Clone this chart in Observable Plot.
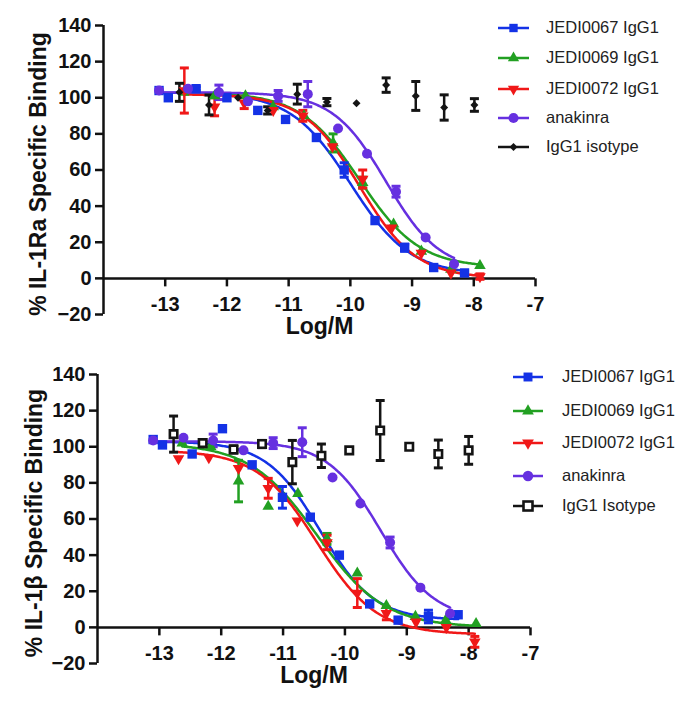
<!DOCTYPE html>
<html><head><meta charset="utf-8">
<script src="https://cdn.jsdelivr.net/npm/d3@7"></script>
<script src="https://cdn.jsdelivr.net/npm/@observablehq/plot@0.6"></script>
<style>
body{margin:0;background:#fff;font-family:"Liberation Sans",Arial,sans-serif;}
#wrap{position:relative;width:700px;height:709px;overflow:hidden;}
#wrap svg{position:absolute;left:0;overflow:visible;}
.legend{position:absolute;font-family:"Liberation Sans",Arial,sans-serif;font-size:16.5px;color:#222;white-space:nowrap;}
.legend svg{position:absolute;}
</style></head><body><div id="wrap"></div><script>
// ---------- axis ticks ----------
const xTicks = [-13, -12, -11, -10, -9, -8, -7];
const yTicks = [-20, 0, 20, 40, 60, 80, 100, 120, 140];
const xLabel = "Log/M";
const yLabelTop = "% IL-1Ra Specific Binding";
const yLabelBottom = "% IL-1\u03B2 Specific Binding";

// ---------- series ----------
const namesTop = ["JEDI0067 IgG1", "JEDI0069 IgG1", "JEDI0072 IgG1", "anakinra", "IgG1 isotype"];
const namesBottom = ["JEDI0067 IgG1", "JEDI0069 IgG1", "JEDI0072 IgG1", "anakinra", "IgG1 Isotype"];
const colors = ["#1432e6", "#22a022", "#f01818", "#6630e0", "#141414"];

// ---------- top panel (IL-1Ra) data ----------
const blueX_A = [-13.1, -12.95, -12.5, -12.0, -11.5, -11.05, -10.55, -10.1, -9.6, -9.12, -8.65, -8.15];
const blueY_A = [104, 100, 105, 100, 93, 88, 78, 60, 32, 17, 6, 3];
const blueE_A = [0, 0, 1, 0, 0, 0, 0, 4, 0, 2, 0, 0];
const greenX_A = [-12.7, -12.2, -11.7, -11.25, -10.75, -10.28, -9.8, -9.3, -8.85, -8.37, -7.9];
const greenY_A = [103, 101, 101, 95, 90, 75, 53, 30, 15, 5, 7];
const greenE_A = [0, 0, 0, 0, 0, 5, 3, 0, 0, 0, 0];
const redX_A = [-12.69, -12.2, -11.72, -11.25, -10.77, -10.29, -9.8, -9.33, -8.85, -8.37, -7.9];
const redY_A = [104, 95, 97, 93, 90, 73, 55, 28, 14, 3, 1];
const redE_A = [12.5, 5, 3, 0, 3, 0, 5, 0, 0, 0, 1.5];
const purpleX_A = [-13.1, -12.63, -12.13, -11.66, -11.17, -10.69, -10.2, -9.73, -9.26, -8.78, -8.32];
const purpleY_A = [104, 105, 103, 98, 101, 102, 83, 69, 48, 22.6, 8];
const purpleE_A = [0, 0, 4, 0, 3, 7, 0, 0, 3, 0, 0];
const blackX_A = [-12.77, -12.29, -11.82, -11.34, -10.86, -10.38, -9.9, -9.42, -8.94, -8.48, -7.99];
const blackY_A = [103, 96, 100, 93, 102, 97.6, 97, 107, 101, 94.6, 96];
const blackE_A = [5, 5.5, 0, 2, 5.5, 2, 0, 4, 8, 7, 3.5];

// fitted curve parameters (blue, green, red, purple)
const fitTop_A = [103, 103, 102, 103];
const fitBottom_A = [2, 6, 0, 4];
const fitLogIC50_A = [-10.0, -9.85, -9.85, -9.42];
const fitHill_A = [0.9, 0.9, 0.95, 1.0];
const fitXmin_A = [-13.1, -12.7, -12.69, -13.1];
const fitXmax_A = [-8.15, -7.9, -7.9, -8.32];

// ---------- bottom panel (IL-1beta) data ----------
const blueX_B = [-13.1, -12.95, -12.47, -11.98, -11.5, -11.01, -10.56, -10.09, -9.6, -9.14, -8.65, -8.17];
const blueY_B = [104, 101, 96, 110, 90, 72, 61, 40, 13, 4, 6, 7];
const blueE_B = [0, 0, 0, 0, 0, 6, 0, 0, 0, 0, 3.5, 0];
const greenX_B = [-12.63, -12.17, -11.72, -11.24, -10.76, -10.29, -9.8, -9.33, -8.86, -8.37, -7.88];
const greenY_B = [102, 100, 81, 67, 74, 49, 30, 12, 6, 4, 2];
const greenE_B = [0, 0, 11.5, 0, 0, 3, 0, 0, 0, 0, 0];
const redX_B = [-12.69, -12.2, -11.72, -11.24, -10.77, -10.29, -9.8, -9.33, -8.85, -8.36, -7.9];
const redY_B = [93.5, 94, 88, 77, 59, 47, 19, 7.7, 3, 0, -8];
const redE_B = [0, 0, 0, 5.5, 0, 4, 8, 3.5, 0, 0, 3];
const purpleX_B = [-13.1, -12.61, -12.13, -11.64, -11.16, -10.69, -10.2, -9.75, -9.27, -8.78, -8.3];
const purpleY_B = [103.5, 105, 103.5, 98, 102, 102.5, 83, 68.6, 47, 22, 7.7];
const purpleE_B = [0, 0, 3.5, 0, 3, 8, 0, 0, 3, 0, 0];
const blackX_B = [-12.77, -12.3, -11.8, -11.34, -10.85, -10.38, -9.93, -9.43, -8.96, -8.49, -8.0];
const blackY_B = [107, 102, 98.5, 101.5, 91.5, 95, 98, 109, 100, 96, 98];
const blackE_B = [10, 2, 2, 2, 12, 6.5, 0, 16.6, 0, 7.7, 7.7];

const fitTop_B = [103, 102, 98, 103];
const fitBottom_B = [4, 0, -4, 4];
const fitLogIC50_B = [-10.4, -10.45, -10.45, -9.42];
const fitHill_B = [1.0, 0.8, 0.9, 1.0];
const fitXmin_B = [-13.1, -12.63, -12.69, -13.1];
const fitXmax_B = [-8.17, -7.88, -7.9, -8.3];

// ---------- symbols ----------
const triDown = {draw(ctx, size) {
  const s = Math.sqrt(size * 4 / Math.sqrt(3)), h = s * Math.sqrt(3) / 2;
  ctx.moveTo(0, 2 * h / 3); ctx.lineTo(-s / 2, -h / 3); ctx.lineTo(s / 2, -h / 3); ctx.closePath();
}};
const capSym = {draw(ctx) { ctx.moveTo(-4.5, 0); ctx.lineTo(4.5, 0); }};
const tickDown = {draw(ctx) { ctx.moveTo(0, 0); ctx.lineTo(0, 8); }};
const openSquare = "openSquare";

function pts(xs, ys, es) { return xs.map((x, i) => ({x, y: ys[i], e: es[i]})); }

function buildPanel(cfg) {
  const series = cfg.series;
  const marks = [];
  // axes
  marks.push(Plot.ruleX([-14], {y1: -20, y2: 140, stroke: "#111", strokeWidth: 2.5}));
  marks.push(Plot.ruleY([0], {x1: -14, x2: -7, stroke: "#111", strokeWidth: 2.5}));
  marks.push(Plot.axisY(yTicks, {tickSize: 8, tickPadding: 4, fontSize: 20, fontWeight: "bold", strokeWidth: 2.5, color: "#111", label: null}));
  marks.push(Plot.dot(xTicks, {x: d => d, y: 0, symbol: tickDown, stroke: "#111", strokeWidth: 2.5, fill: "none"}));
  marks.push(Plot.text(xTicks, {x: d => d, y: 0, dy: 26, text: d => String(d), fontSize: 20, fontWeight: "bold", fill: "#111"}));
  marks.push(Plot.text([xLabel], {frameAnchor: "bottom", dy: cfg.xLabelDy, text: d => d, fontSize: 23, fontWeight: "bold", fill: "#111"}));
  marks.push(Plot.text([cfg.yLabel], {frameAnchor: "left", textAnchor: "middle", rotate: -90, dx: cfg.yLabelDx, dy: 4, text: d => d, fontSize: 23, fontWeight: "bold", fill: "#111"}));
  // fitted curves
  for (let k = 0; k < 4; k++) {
    const f = cfg.fit;
    const xs = d3.range(f.xmin[k], f.xmax[k] + 1e-9, 0.02).concat([f.xmax[k]]);
    const curve = xs.map(x => ({x, y: f.bottom[k] + (f.top[k] - f.bottom[k]) / (1 + Math.pow(10, (x - f.ic50[k]) * f.hill[k]))}));
    marks.push(Plot.line(curve, {x: "x", y: "y", stroke: colors[k], strokeWidth: 2.5}));
  }
  // error bars + points
  series.forEach((s, k) => {
    const data = s.data;
    const eb = data.filter(d => d.e > 0);
    marks.push(Plot.ruleX(eb, {x: "x", y1: d => d.y - d.e, y2: d => d.y + d.e, stroke: colors[k], strokeWidth: 2.5}));
    marks.push(Plot.dot(eb, {x: "x", y: d => d.y + d.e, symbol: capSym, stroke: colors[k], strokeWidth: 3, fill: "none"}));
    marks.push(Plot.dot(eb, {x: "x", y: d => d.y - d.e, symbol: capSym, stroke: colors[k], strokeWidth: 3, fill: "none"}));
  });
  series.forEach((s, k) => {
    if (s.symbol === openSquare) {
      marks.push(Plot.dot(s.data, {x: "x", y: "y", symbol: "square", r: 4.2, fill: "#fff", stroke: colors[k], strokeWidth: 2.6}));
    } else {
      marks.push(Plot.dot(s.data, {x: "x", y: "y", symbol: s.symbol, r: s.r, fill: colors[k], stroke: "none"}));
    }
  });
  const svg = Plot.plot({
    width: 700, height: cfg.height,
    marginLeft: cfg.ml, marginRight: cfg.mr, marginTop: cfg.mt, marginBottom: cfg.mb,
    x: {domain: [-14, -7], axis: null},
    y: {domain: [-20, 140], axis: null},
    style: {fontFamily: "'Liberation Sans', Arial, sans-serif", background: "transparent", color: "#111"},
    marks
  });
  svg.style.top = cfg.top + "px";
  return svg;
}

function legend(names, symbols, cfg) {
  const div = document.createElement("div");
  names.forEach((name, k) => {
    const row = document.createElement("div");
    row.className = "legend";
    row.style.left = cfg.textX + "px";
    row.style.top = (cfg.rows[k] - 10) + "px";
    row.textContent = name;
    div.appendChild(row);
    const svg = d3.create("svg").attr("width", 40).attr("height", 20)
      .style("position", "absolute").style("left", (cfg.lineX0 - 4) + "px").style("top", (cfg.rows[k] - 10) + "px");
    svg.append("line").attr("x1", 4).attr("x2", 4 + cfg.lineX1 - cfg.lineX0).attr("y1", 10).attr("y2", 10)
      .attr("stroke", colors[k]).attr("stroke-width", 2.5);
    const cx = 4 + (cfg.lineX1 - cfg.lineX0) / 2;
    const sym = symbols[k];
    if (sym.type === openSquare) {
      svg.append("rect").attr("x", cx - 4.5).attr("y", 5.5).attr("width", 9).attr("height", 9)
        .attr("fill", "#fff").attr("stroke", colors[k]).attr("stroke-width", 2.6);
    } else {
      svg.append("path").attr("transform", `translate(${cx},10)`)
        .attr("d", d3.symbol().type(sym.type).size(sym.size)()).attr("fill", colors[k]);
    }
    div.appendChild(svg.node());
  });
  return div;
}

const wrap = document.getElementById("wrap");

const topPanel = buildPanel({
  top: 0, height: 345, ml: 103, mr: 165, mt: 25, mb: 31, xLabelDy: 19, yLabelDx: -65, yLabel: yLabelTop,
  fit: {top: fitTop_A, bottom: fitBottom_A, ic50: fitLogIC50_A, hill: fitHill_A, xmin: fitXmin_A, xmax: fitXmax_A},
  series: [
    {data: pts(blueX_A, blueY_A, blueE_A), symbol: "square", r: 5.3},
    {data: pts(greenX_A, greenY_A, greenE_A), symbol: "triangle", r: 4.3},
    {data: pts(redX_A, redY_A, redE_A), symbol: triDown, r: 4.3},
    {data: pts(purpleX_A, purpleY_A, purpleE_A), symbol: "circle", r: 5},
    {data: pts(blackX_A, blackY_A, blackE_A), symbol: "diamond2", r: 3.6}
  ]
});
wrap.appendChild(topPanel);

const bottomPanel = buildPanel({
  top: 345, height: 364, ml: 97, mr: 170, mt: 29, mb: 46, xLabelDy: 19, yLabelDx: -63, yLabel: yLabelBottom,
  fit: {top: fitTop_B, bottom: fitBottom_B, ic50: fitLogIC50_B, hill: fitHill_B, xmin: fitXmin_B, xmax: fitXmax_B},
  series: [
    {data: pts(blueX_B, blueY_B, blueE_B), symbol: "square", r: 5.3},
    {data: pts(greenX_B, greenY_B, greenE_B), symbol: "triangle", r: 4.3},
    {data: pts(redX_B, redY_B, redE_B), symbol: triDown, r: 4.3},
    {data: pts(purpleX_B, purpleY_B, purpleE_B), symbol: "circle", r: 5},
    {data: pts(blackX_B, blackY_B, blackE_B), symbol: openSquare}
  ]
});
wrap.appendChild(bottomPanel);

const legSymsTop = [
  {type: d3.symbolSquare, size: 70}, {type: d3.symbolTriangle, size: 55}, {type: triDown, size: 55},
  {type: d3.symbolCircle, size: 80}, {type: d3.symbolDiamond2, size: 40}
];
const legSymsBottom = [
  {type: d3.symbolSquare, size: 80}, {type: d3.symbolTriangle, size: 60}, {type: triDown, size: 60},
  {type: d3.symbolCircle, size: 85}, {type: openSquare}
];
wrap.appendChild(legend(namesTop, legSymsTop, {textX: 546, lineX0: 498, lineX1: 529, rows: [28, 58, 89, 118, 147]}));
wrap.appendChild(legend(namesBottom, legSymsBottom, {textX: 562, lineX0: 513, lineX1: 543, rows: [377, 411, 443, 476, 506]}));
</script></body></html>
